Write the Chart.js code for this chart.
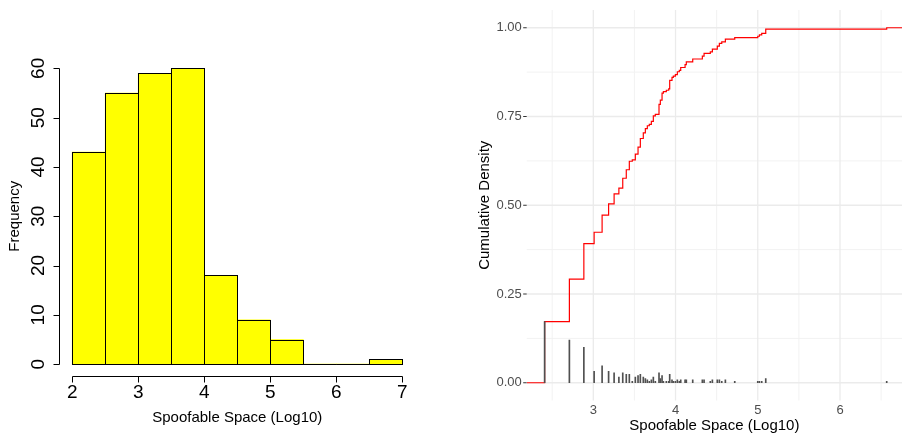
<!DOCTYPE html>
<html>
<head>
<meta charset="utf-8">
<script src="https://cdn.jsdelivr.net/npm/chart.js@4.4.0/dist/chart.umd.min.js"></script>
<style>
    html, body { margin: 0; padding: 0; background: #fff; overflow: hidden; }
    .panel { position: absolute; top: 0; width: 451px; height: 435px; }
    #leftPanel { left: 0; }
    #rightPanel { left: 451px; }
</style>
</head>
<body>
<div class="panel" id="leftPanel"><canvas id="histChart" width="451" height="435"></canvas></div>
<div class="panel" id="rightPanel"><canvas id="ecdfChart" width="451" height="435"></canvas></div>
<script>
// left: histogram of spoofable space
const histBinEdges = [2, 2.5, 3, 3.5, 4, 4.5, 5, 5.5, 6, 6.5, 7];
const histCounts = [43, 55, 59, 60, 18, 9, 5, 0, 0, 1];
const histXTicks = [2, 3, 4, 5, 6, 7];
const histYTicks = [0, 10, 20, 30, 40, 50, 60];

// right: distinct values (log10) and how many prefixes sit at each one
const ecdfValues = [
    2.408, 2.709, 2.885, 3.010, 3.107, 3.186, 3.253, 3.311, 3.358, 3.401,
    3.438, 3.474, 3.511, 3.544, 3.572, 3.608, 3.633, 3.657, 3.681, 3.706,
    3.730, 3.754, 3.799, 3.815, 3.836, 3.852, 3.888, 3.917, 3.929, 3.957,
    3.973, 3.998, 4.022, 4.046, 4.063, 4.116, 4.131, 4.209, 4.326, 4.347,
    4.423, 4.448, 4.508, 4.533, 4.562, 4.606, 4.720, 5.000, 5.020, 5.048,
    5.097, 6.568
];
const ecdfCounts = [
    43, 30, 25, 8, 12, 8, 7, 4, 7, 6,
    6, 1, 4, 5, 6, 4, 3, 2, 1, 2,
    4, 1, 7, 3, 5, 1, 1, 1, 6, 2,
    1, 1, 2, 1, 2, 2, 2, 2, 2, 2,
    1, 2, 2, 2, 1, 2, 1, 1, 1, 1,
    3, 1
];
const ecdfXTicks = [3, 4, 5, 6];
const ecdfXMinor = [2.5, 3.5, 4.5, 5.5, 6.5];
const ecdfYTicks = [0, 0.25, 0.5, 0.75, 1];
const ecdfYMinor = [0.125, 0.375, 0.625, 0.875];

const rFont = '"Liberation Sans", Arial, Helvetica, sans-serif';

const histAxes = {
    id: 'histAxes',
    afterDatasetsDraw(chart) {
        const { ctx } = chart;
        ctx.save();
        ctx.strokeStyle = '#000';
        ctx.lineWidth = 1;
        chart.getDatasetMeta(0).data.forEach(bar => {
            const l = Math.round(bar.x - bar.width / 2);
            const r = Math.round(bar.x + bar.width / 2);
            const t = Math.round(bar.y);
            const b = Math.round(bar.base);
            ctx.strokeRect(l + 0.5, t + 0.5, r - l, b - t);
        });
        ctx.restore();
    },
    afterDraw(chart) {
        const { ctx, chartArea } = chart;
        const xs = chart.scales.x;
        const ys = chart.scales.y;
        ctx.save();
        ctx.strokeStyle = '#000';
        ctx.fillStyle = '#000';
        ctx.lineWidth = 1;

        // x axis
        const ax = Math.round(chartArea.bottom) + 0.5;
        ctx.beginPath();
        ctx.moveTo(Math.round(xs.getPixelForValue(histXTicks[0])) + 0.5, ax);
        ctx.lineTo(Math.round(xs.getPixelForValue(histXTicks[histXTicks.length - 1])) + 0.5, ax);
        histXTicks.forEach(v => {
            const px = Math.round(xs.getPixelForValue(v)) + 0.5;
            ctx.moveTo(px, ax);
            ctx.lineTo(px, ax + 6);
        });
        ctx.stroke();
        ctx.font = '19px ' + rFont;
        ctx.textAlign = 'center';
        ctx.textBaseline = 'middle';
        histXTicks.forEach(v => ctx.fillText(String(v), xs.getPixelForValue(v), ax + 16));

        // y axis
        const ay = Math.round(chartArea.left) + 0.5;
        ctx.beginPath();
        ctx.moveTo(ay, Math.round(ys.getPixelForValue(histYTicks[0])) + 0.5);
        ctx.lineTo(ay, Math.round(ys.getPixelForValue(histYTicks[histYTicks.length - 1])) + 0.5);
        histYTicks.forEach(v => {
            const py = Math.round(ys.getPixelForValue(v)) + 0.5;
            ctx.moveTo(ay, py);
            ctx.lineTo(ay - 6, py);
        });
        ctx.stroke();
        histYTicks.forEach(v => {
            ctx.save();
            ctx.translate(ay - 21, ys.getPixelForValue(v));
            ctx.rotate(-Math.PI / 2);
            ctx.fillText(String(v), 0, 0);
            ctx.restore();
        });

        // titles
        ctx.font = '15px ' + rFont;
        const midX = (xs.getPixelForValue(histXTicks[0]) + xs.getPixelForValue(histXTicks[histXTicks.length - 1])) / 2;
        ctx.fillText('Spoofable Space (Log10)', midX, 418);
        ctx.save();
        ctx.translate(15, (chartArea.top + chartArea.bottom) / 2);
        ctx.rotate(-Math.PI / 2);
        ctx.fillText('Frequency', 0, 0);
        ctx.restore();
        ctx.restore();
    }
};

const ecdfAxes = {
    id: 'ecdfAxes',
    beforeDatasetsDraw(chart) {
        const { ctx, chartArea } = chart;
        const xs = chart.scales.x;
        const ys = chart.scales.y;
        ctx.save();
        const vLine = (v, w, c) => {
            const px = xs.getPixelForValue(v);
            ctx.strokeStyle = c; ctx.lineWidth = w;
            ctx.beginPath(); ctx.moveTo(px, chartArea.top); ctx.lineTo(px, chartArea.bottom); ctx.stroke();
        };
        const hLine = (v, w, c) => {
            const py = ys.getPixelForValue(v);
            ctx.strokeStyle = c; ctx.lineWidth = w;
            ctx.beginPath(); ctx.moveTo(chartArea.left, py); ctx.lineTo(chartArea.right, py); ctx.stroke();
        };
        ecdfXMinor.forEach(v => vLine(v, 1, '#f2f2f2'));
        ecdfYMinor.forEach(v => hLine(v, 1, '#f2f2f2'));
        ecdfXTicks.forEach(v => vLine(v, 1.3, '#ebebeb'));
        ecdfYTicks.forEach(v => hLine(v, 1.3, '#ebebeb'));
        ctx.restore();
    },
    afterDraw(chart) {
        const { ctx, chartArea } = chart;
        const xs = chart.scales.x;
        const ys = chart.scales.y;
        ctx.save();
        ctx.font = '13px ' + rFont;
        ctx.fillStyle = '#4d4d4d';
        ctx.strokeStyle = '#333';
        ctx.lineWidth = 1;
        ctx.textBaseline = 'middle';
        ctx.textAlign = 'right';
        ecdfYTicks.forEach(v => {
            const py = ys.getPixelForValue(v);
            ctx.fillText(v.toFixed(2), chartArea.left - 5, py);
            ctx.beginPath();
            ctx.moveTo(chartArea.left - 3.5, py);
            ctx.lineTo(chartArea.left, py);
            ctx.stroke();
        });
        ctx.textAlign = 'center';
        ecdfXTicks.forEach(v => ctx.fillText(String(v), xs.getPixelForValue(v), 410));

        ctx.fillStyle = '#000';
        ctx.font = '15px ' + rFont;
        ctx.fillText('Spoofable Space (Log10)', (chartArea.left + chartArea.right) / 2, 426);
        ctx.save();
        ctx.translate(34, (chartArea.top + chartArea.bottom) / 2);
        ctx.rotate(-Math.PI / 2);
        ctx.fillText('Cumulative Density', 0, 0);
        ctx.restore();
        ctx.restore();
    }
};

document.addEventListener('DOMContentLoaded', () => {
    const histData = histCounts.map((count, i) => ({
        x: (histBinEdges[i] + histBinEdges[i + 1]) / 2,
        y: count
    }));

    new Chart(document.getElementById('histChart'), {
        type: 'bar',
        data: {
            datasets: [{
                data: histData,
                backgroundColor: '#ffff00',
                borderWidth: 0,
                barPercentage: 1,
                categoryPercentage: 1
            }]
        },
        options: {
            responsive: false,
            animation: false,
            layout: { padding: { left: 59, top: 56.5, right: 35.5, bottom: 59 } },
            plugins: { legend: { display: false }, tooltip: { enabled: false } },
            scales: {
                x: { type: 'linear', min: 1.8, max: 7.2, offset: false, display: false },
                y: { min: -2.4, max: 62.4, display: false }
            }
        },
        plugins: [histAxes]
    });

    const total = ecdfCounts.reduce((a, b) => a + b, 0);
    const xMin = 2.19;
    const xMax = 6.754;
    let running = 0;
    const stepData = [{ x: xMin, y: 0 }];
    ecdfValues.forEach((v, i) => {
        running += ecdfCounts[i];
        stepData.push({ x: v, y: running / total });
    });
    stepData.push({ x: xMax, y: 1 });
    const massData = ecdfValues.map((v, i) => ({ x: v, y: ecdfCounts[i] / total }));

    new Chart(document.getElementById('ecdfChart'), {
        type: 'bar',
        data: {
            datasets: [
                {
                    type: 'bar',
                    data: massData,
                    backgroundColor: '#505050',
                    barThickness: 1,
                    order: 0
                },
                {
                    type: 'line',
                    data: stepData,
                    borderColor: '#ff0000',
                    borderWidth: 1.2,
                    stepped: 'before',
                    pointRadius: 0,
                    fill: false,
                    order: 1
                }
            ]
        },
        options: {
            responsive: false,
            animation: false,
            layout: { padding: { left: 75.7, top: 10, right: 0, bottom: 34.5 } },
            plugins: { legend: { display: false }, tooltip: { enabled: false } },
            scales: {
                x: { type: 'linear', min: xMin, max: xMax, offset: false, display: false },
                y: { min: -0.05, max: 1.05, display: false }
            }
        },
        plugins: [ecdfAxes]
    });
});
</script>
</body>
</html>
